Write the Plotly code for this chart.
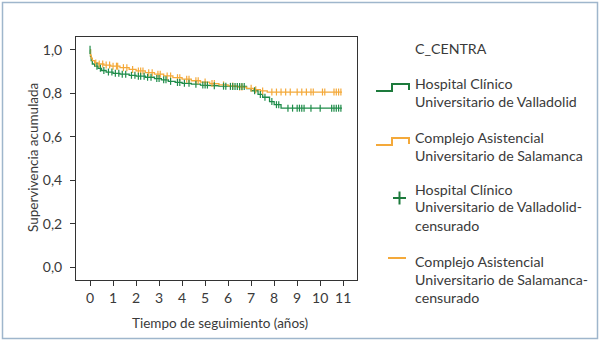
import numpy as np
import plotly.graph_objects as go

# ---------------- data ----------------
# Kaplan-Meier step data (time in years, cumulative survival)
valladolid_t = [0.0, 0.02, 0.05, 0.1, 0.2, 0.35, 0.5, 0.7, 1.0, 1.3, 1.7, 2.0, 2.4, 2.8, 3.1, 3.4, 3.7,
                4.0, 4.4, 4.8, 5.2, 5.6, 6.0, 6.8, 7.0, 7.3, 7.5, 7.8, 8.0, 8.3]
valladolid_s = [1.0, 0.97, 0.95, 0.935, 0.925, 0.915, 0.905, 0.898, 0.892, 0.888, 0.883, 0.879, 0.874, 0.868, 0.862,
                0.855, 0.850, 0.846, 0.842, 0.838, 0.835, 0.833, 0.832, 0.822, 0.812, 0.795, 0.782, 0.762, 0.748, 0.732]
valladolid_cens = [0.3, 0.45, 0.6, 0.8, 0.95, 1.1, 1.25, 1.4, 1.55, 1.8, 1.95, 2.1, 2.2, 2.35, 2.5, 2.65, 2.9, 3.0,
                   3.2, 3.3, 3.5, 3.8, 3.9, 4.1, 4.3, 4.6, 4.9, 5.0, 5.1, 5.4, 5.8, 5.9, 6.1, 6.2, 6.3, 6.4,
                   6.5, 6.6, 6.7, 7.15, 7.4, 7.6, 7.9, 8.1, 8.2, 8.6, 8.8, 9.0, 9.1, 9.2, 9.3, 9.6, 10.0,
                   10.5, 10.6, 10.7, 10.8, 10.9]

salamanca_t = [0.0, 0.02, 0.05, 0.1, 0.2, 0.35, 0.6, 0.9, 1.3, 1.7, 2.0, 2.4, 2.8, 3.2, 3.6, 4.0, 4.4,
               4.8, 5.2, 5.6, 6.0, 6.4, 6.8, 7.1, 7.4, 7.7]
salamanca_s = [1.0, 0.975, 0.962, 0.95, 0.94, 0.935, 0.93, 0.925, 0.918, 0.91, 0.903, 0.895, 0.888, 0.88, 0.872,
               0.865, 0.858, 0.852, 0.845, 0.839, 0.834, 0.829, 0.823, 0.817, 0.811, 0.806]
salamanca_cens = [0.25, 0.4, 0.55, 0.7, 0.85, 1.0, 1.15, 1.2, 1.45, 1.6, 1.85, 2.1, 2.2, 2.3, 2.55, 2.7, 2.95,
                  3.05, 3.35, 3.5, 3.8, 3.9, 4.2, 4.3, 4.6, 4.7, 5.0, 5.3, 5.4, 5.8, 6.2, 6.5, 6.6, 7.0,
                  7.2, 7.5, 7.9, 8.1, 8.3, 8.5, 8.7, 9.0, 9.2, 9.4, 9.6, 9.7, 10.1, 10.2, 10.6, 10.7, 10.8, 10.9]
end_time = 10.95

y_ticks = [0.0, 0.2, 0.4, 0.6, 0.8, 1.0]
y_ticklabels = ["0,0", "0,2", "0,4", "0,6", "0,8", "1,0"]
x_ticks = list(range(0, 12))

legend_title = "C_CENTRA"
legend_entries = [
    ["Hospital Clínico", "Universitario de Valladolid"],
    ["Complejo Asistencial", "Universitario de Salamanca"],
    ["Hospital Clínico", "Universitario de Valladolid-", "censurado"],
    ["Complejo Asistencial", "Universitario de Salamanca-", "censurado"],
]

GREEN = "#1f8c4a"
ORANGE = "#f4a93a"
FONT = "Lato"
TXT = "#3a3a3a"

W, H = 600, 342
L, R, T, B = 76, 243, 37, 62
PW, PH = W - L - R, H - T - B


def px(x):
    return (x - L) / PW


def py(y):
    return (H - B - y) / PH


def step_xy(t, s, end):
    xs, ys = [], []
    for i in range(len(t)):
        if i > 0:
            xs.append(t[i]); ys.append(s[i - 1])
        xs.append(t[i]); ys.append(s[i])
    xs.append(end); ys.append(s[-1])
    return xs, ys


def surv_at(t, s, times):
    idx = np.searchsorted(np.array(t), np.array(times), side="right") - 1
    return [s[i] for i in idx]


fig = go.Figure()
for t, s, c, col in [(valladolid_t, valladolid_s, valladolid_cens, GREEN),
                     (salamanca_t, salamanca_s, salamanca_cens, ORANGE)]:
    xs, ys = step_xy(t, s, end_time)
    fig.add_trace(go.Scatter(x=xs, y=ys, mode="lines", line=dict(color=col, width=1.3),
                             showlegend=False, hoverinfo="skip"))
for t, s, c, col in [(salamanca_t, salamanca_s, salamanca_cens, ORANGE),
                     (valladolid_t, valladolid_s, valladolid_cens, GREEN)]:
    fig.add_trace(go.Scatter(x=c, y=surv_at(t, s, c), mode="markers",
                             marker=dict(symbol="line-ns", size=5, line=dict(color=col, width=1.2)),
                             showlegend=False, hoverinfo="skip"))
# initial mark
fig.add_trace(go.Scatter(x=[0], y=[1.0], mode="markers",
                         marker=dict(symbol="line-ns", size=6, line=dict(color=GREEN, width=1.2)),
                         showlegend=False, hoverinfo="skip"))

shapes = []
# outer frame
shapes.append(dict(type="rect", xref="paper", yref="paper", x0=px(2.5), x1=px(597.5), y0=py(338.5), y1=py(2.5),
                   line=dict(color="#9fb6cc", width=1.5), layer="below"))


def path(points):
    return "M " + " L ".join(f"{px(a)},{py(b)}" for a, b in points)


shapes.append(dict(type="path", xref="paper", yref="paper",
                   path=path([(376, 91), (392, 91), (392, 84), (409, 84), (409, 90)]),
                   line=dict(color="#1d7a3c", width=2)))
shapes.append(dict(type="path", xref="paper", yref="paper",
                   path=path([(376, 145), (392, 145), (392, 138), (409, 138), (409, 144)]),
                   line=dict(color=ORANGE, width=2)))
shapes.append(dict(type="line", xref="paper", yref="paper", x0=px(393), x1=px(406), y0=py(198), y1=py(198),
                   line=dict(color="#1d7a3c", width=2)))
shapes.append(dict(type="line", xref="paper", yref="paper", x0=px(399.5), x1=px(399.5), y0=py(191.5), y1=py(204.5),
                   line=dict(color="#1d7a3c", width=2)))
shapes.append(dict(type="line", xref="paper", yref="paper", x0=px(388), x1=px(406), y0=py(258), y1=py(258),
                   line=dict(color=ORANGE, width=2)))

LEG_SIZE = 14.2
annotations = [dict(text=legend_title, xref="paper", yref="paper", x=px(413), y=py(48),
                    xanchor="left", yanchor="middle", showarrow=False,
                    font=dict(family=FONT, size=LEG_SIZE, color=TXT))]
starts = [83, 137, 189, 261]
for entry, y0 in zip(legend_entries, starts):
    for k, line in enumerate(entry):
        annotations.append(dict(text=line, xref="paper", yref="paper", x=px(413), y=py(y0 + 18 * k),
                                xanchor="left", yanchor="middle", showarrow=False,
                                font=dict(family=FONT, size=LEG_SIZE, color=TXT)))
annotations.append(dict(text="Tiempo de seguimiento (años)", xref="paper", yref="paper", x=px(220), y=py(323),
                        xanchor="center", yanchor="middle", showarrow=False,
                        font=dict(family=FONT, size=13.5, color=TXT)))
annotations.append(dict(text="Supervivencia acumulada", xref="paper", yref="paper", x=px(33), y=py(158),
                        xanchor="center", yanchor="middle", textangle=-90, showarrow=False,
                        font=dict(family=FONT, size=13.5, color=TXT)))

fig.update_layout(
    width=W, height=H, margin=dict(l=L, r=R, t=T, b=B),
    paper_bgcolor="white", plot_bgcolor="white",
    shapes=shapes, annotations=annotations, showlegend=False,
    xaxis=dict(range=[-0.61, 11.6], tickvals=x_ticks, ticks="outside", ticklen=5, tickcolor="#333",
               showgrid=False, zeroline=False, showline=True, linecolor="#333", linewidth=1, mirror=True,
               tickfont=dict(family=FONT, size=14, color=TXT)),
    yaxis=dict(range=[-0.058, 1.059], tickvals=y_ticks, ticktext=y_ticklabels, ticks="outside", ticklen=5,
               tickcolor="#333", showgrid=False, zeroline=False, showline=True, linecolor="#333", linewidth=1,
               mirror=True, ticklabelstandoff=5, tickfont=dict(family=FONT, size=14, color=TXT)),
)
fig.write_html("out.html", config={"displayModeBar": False},
               post_script="document.body.style.margin='0';document.body.style.overflow='hidden';")
